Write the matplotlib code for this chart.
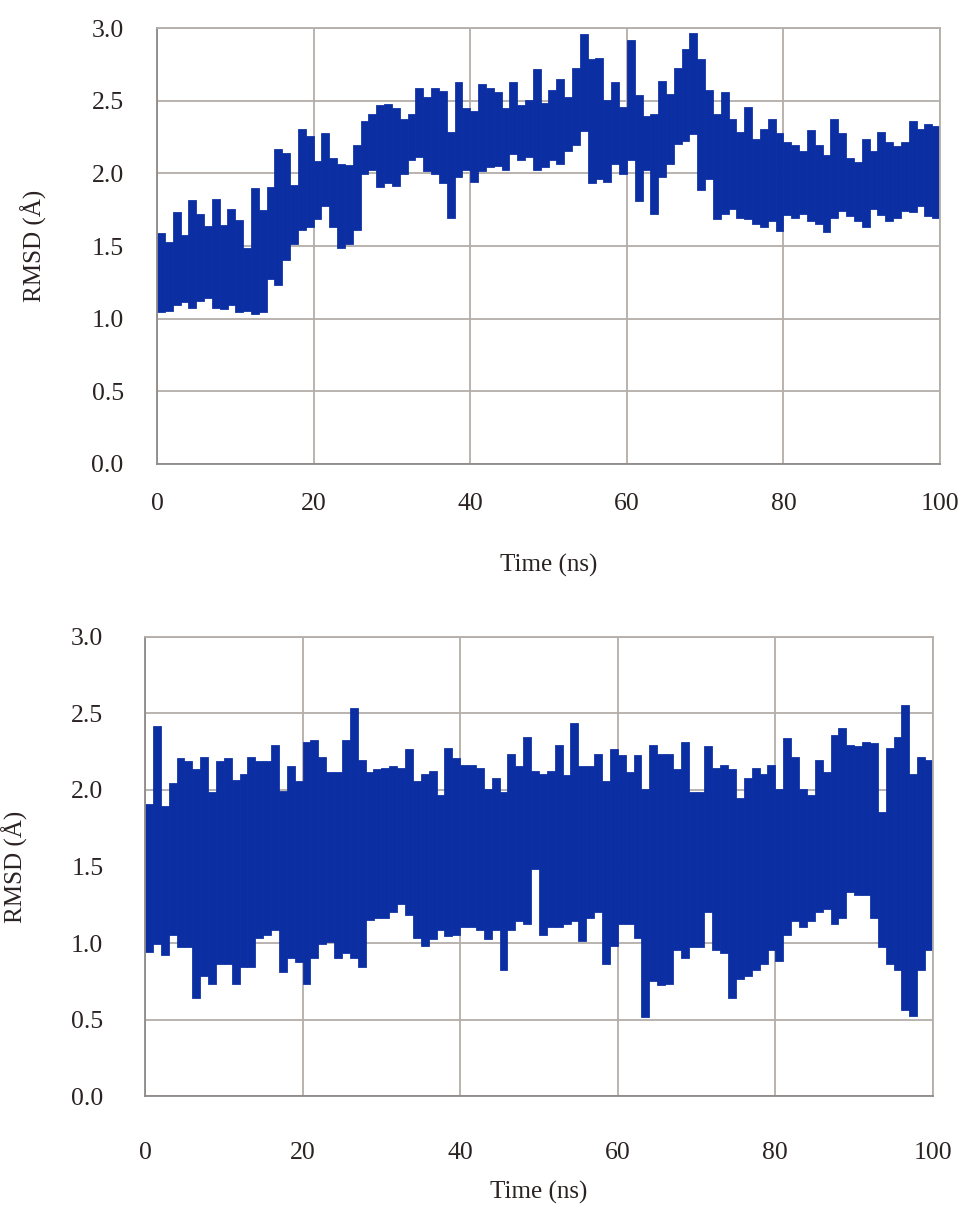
import numpy as np
import matplotlib
matplotlib.use("Agg")
import matplotlib.pyplot as plt

# RMSD traces: per-ns upper and lower swing (Å)
top_hi = [1.58, 1.52, 1.73, 1.57, 1.81, 1.71, 1.63, 1.82, 1.64, 1.75,
          1.67, 1.48, 1.89, 1.74, 1.90, 2.16, 2.13, 1.91, 2.30, 2.25,
          2.08, 2.27, 2.10, 2.06, 2.05, 2.19, 2.35, 2.40, 2.46, 2.47,
          2.44, 2.37, 2.40, 2.58, 2.52, 2.58, 2.56, 2.28, 2.62, 2.44,
          2.42, 2.61, 2.58, 2.55, 2.44, 2.62, 2.46, 2.50, 2.71, 2.48,
          2.57, 2.64, 2.52, 2.72, 2.95, 2.78, 2.79, 2.50, 2.62, 2.45,
          2.91, 2.53, 2.39, 2.40, 2.63, 2.54, 2.72, 2.85, 2.96, 2.78,
          2.57, 2.40, 2.55, 2.37, 2.28, 2.45, 2.23, 2.30, 2.37, 2.27,
          2.21, 2.19, 2.15, 2.29, 2.19, 2.12, 2.37, 2.27, 2.10, 2.07,
          2.23, 2.15, 2.28, 2.21, 2.18, 2.21, 2.35, 2.30, 2.33, 2.32]
top_lo = [1.05, 1.06, 1.10, 1.12, 1.08, 1.13, 1.15, 1.08, 1.07, 1.10,
          1.05, 1.06, 1.04, 1.05, 1.28, 1.24, 1.41, 1.52, 1.62, 1.64,
          1.69, 1.78, 1.64, 1.49, 1.52, 1.62, 2.00, 2.03, 1.91, 1.94,
          1.92, 2.00, 2.10, 2.12, 2.02, 2.00, 1.94, 1.70, 1.98, 2.03,
          1.95, 2.02, 2.05, 2.06, 2.03, 2.14, 2.10, 2.12, 2.03, 2.05,
          2.10, 2.07, 2.16, 2.20, 2.30, 1.94, 1.97, 1.95, 2.07, 2.00,
          2.10, 1.82, 2.03, 1.73, 1.98, 2.07, 2.21, 2.23, 2.28, 1.89,
          1.97, 1.69, 1.73, 1.76, 1.70, 1.69, 1.66, 1.64, 1.68, 1.61,
          1.72, 1.70, 1.73, 1.68, 1.66, 1.60, 1.70, 1.75, 1.71, 1.68,
          1.64, 1.76, 1.72, 1.68, 1.70, 1.75, 1.74, 1.78, 1.71, 1.70]

bot_hi = [1.90, 2.41, 1.89, 2.04, 2.20, 2.18, 2.13, 2.21, 1.98, 2.18,
          2.20, 2.06, 2.10, 2.21, 2.18, 2.18, 2.29, 1.99, 2.15, 2.05,
          2.31, 2.32, 2.21, 2.11, 2.11, 2.32, 2.53, 2.19, 2.11, 2.13,
          2.14, 2.15, 2.14, 2.26, 2.05, 2.10, 2.12, 1.96, 2.27, 2.20,
          2.16, 2.16, 2.14, 2.00, 2.07, 1.98, 2.23, 2.15, 2.34, 2.12,
          2.10, 2.12, 2.29, 2.09, 2.43, 2.15, 2.15, 2.23, 2.05, 2.26,
          2.22, 2.11, 2.22, 2.00, 2.29, 2.23, 2.23, 2.13, 2.31, 1.98,
          1.98, 2.28, 2.14, 2.16, 2.13, 1.94, 2.07, 2.14, 2.10, 2.16,
          2.00, 2.33, 2.21, 2.00, 1.96, 2.19, 2.11, 2.35, 2.40, 2.29,
          2.28, 2.31, 2.30, 1.85, 2.27, 2.34, 2.55, 2.10, 2.21, 2.19]
bot_lo = [0.95, 1.00, 0.93, 1.06, 0.98, 0.98, 0.65, 0.79, 0.74, 0.87,
          0.87, 0.74, 0.85, 0.85, 1.04, 1.06, 1.09, 0.82, 0.91, 0.88,
          0.74, 0.91, 1.00, 1.01, 0.91, 0.94, 0.91, 0.85, 1.16, 1.17,
          1.17, 1.21, 1.26, 1.19, 1.04, 0.99, 1.03, 1.09, 1.05, 1.06,
          1.11, 1.11, 1.09, 1.03, 1.09, 0.83, 1.09, 1.15, 1.13, 1.49,
          1.06, 1.11, 1.11, 1.13, 1.15, 1.02, 1.17, 1.21, 0.87, 0.99,
          1.13, 1.13, 1.04, 0.52, 0.76, 0.73, 0.74, 0.96, 0.91, 0.98,
          0.98, 1.21, 0.96, 0.94, 0.65, 0.77, 0.79, 0.83, 0.87, 0.96,
          0.89, 1.06, 1.15, 1.11, 1.15, 1.21, 1.23, 1.13, 1.17, 1.34,
          1.32, 1.32, 1.17, 0.98, 0.87, 0.83, 0.57, 0.53, 0.83, 0.96]

xticks = [0, 20, 40, 60, 80, 100]
yticks = [0.0, 0.5, 1.0, 1.5, 2.0, 2.5, 3.0]

LINE = "#0b2fa3"
GRID = "#b4aeaa"
TEXT = "#2b2222"

plt.rcParams["font.family"] = ["Liberation Serif", "DejaVu Serif"]


def trace(ax, hi, lo):
    # one ns per sample: the trace swings between lo and hi inside each ns
    hi = np.array(hi)
    lo = np.array(lo)
    t = np.arange(len(hi)) + 0.5
    ax.bar(t, hi - lo, bottom=lo, width=0.75, color=LINE,
           edgecolor=LINE, linewidth=2.0, zorder=3)


def style(ax, xpad, ypad, lpad):
    ax.set_xlim(0, 100)
    ax.set_ylim(0, 3.0)
    ax.set_xticks(xticks)
    ax.set_yticks(yticks)
    ax.set_yticklabels(["%.1f" % v for v in yticks])
    ax.grid(True, color=GRID, linewidth=1.3)
    ax.set_axisbelow(True)
    for s in ax.spines.values():
        s.set_color(GRID)
        s.set_linewidth(1.3)
        s.set_zorder(4)
    ax.spines["left"].set_color("#8f8a88")
    ax.spines["bottom"].set_color("#8f8a88")
    ax.tick_params(length=0, labelsize=18.5, colors=TEXT)
    ax.tick_params(axis="x", pad=xpad)
    ax.tick_params(axis="y", pad=ypad)
    ax.set_ylabel("RMSD (Å)", fontsize=18, color=TEXT, labelpad=lpad)


fig = plt.figure(figsize=(9.68, 12.08), dpi=100)

ax1 = fig.add_axes([0.1622, 0.6159, 0.8089, 0.3609])
trace(ax1, top_hi, top_lo)
style(ax1, 21, 24, 32)
ax1.set_xlabel("Time (ns)", fontsize=18, color=TEXT, labelpad=28)

ax2 = fig.add_axes([0.1498, 0.0927, 0.8140, 0.3800])
trace(ax2, bot_hi, bot_lo)
style(ax2, 33, 30, 31)
ax2.set_xlabel("Time (ns)", fontsize=18, color=TEXT, labelpad=12)

fig.savefig("out.png", dpi=100, facecolor="white")
